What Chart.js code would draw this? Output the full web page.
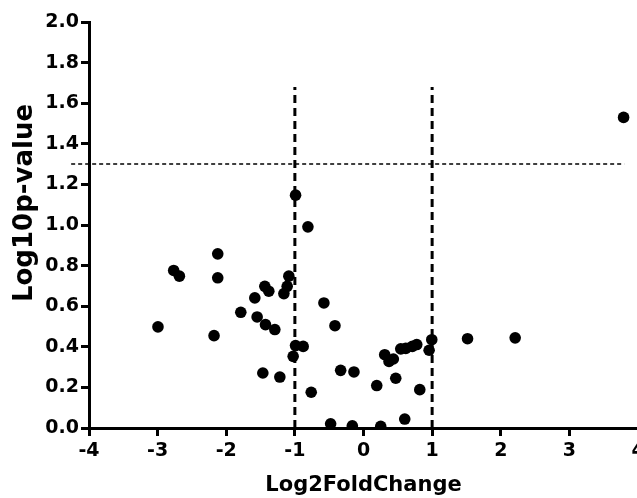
<!DOCTYPE html>
<html>
<head>
<meta charset="utf-8">
<script src="https://cdn.jsdelivr.net/npm/chart.js@4.4.1/dist/chart.umd.min.js"></script>
<style>
  html, body { margin: 0; padding: 0; background: #fff; overflow: hidden; }
  #wrap { width: 660px; height: 498px; position: relative; }
</style>
</head>
<body>
<div id="wrap"><canvas id="chart"></canvas></div>
<script>
// volcano plot values
const foldChange = [
  -2.995, -2.766, -2.683, -2.124, -2.124, -2.178, -1.788, -1.584, -1.550, -1.438,
  -1.380, -1.428, -1.292, -1.467, -1.219, -1.160, -1.112, -1.088, -0.990, -0.810,
  -0.990, -0.879, -1.025, -0.762, -0.577, -0.416, -0.333, -0.139, -0.479, -0.163,
  0.251, 0.601, 0.193, 0.470, 0.820, 0.309, 0.372, 0.435, 0.543, 0.616,
  0.712, 0.776, 0.995, 0.956, 1.516, 2.210, 3.790,
];
const log10p = [
  0.498, 0.776, 0.748, 0.858, 0.740, 0.455, 0.570, 0.641, 0.547, 0.698,
  0.674, 0.509, 0.485, 0.271, 0.251, 0.662, 0.698, 0.748, 1.147, 0.991,
  0.406, 0.402, 0.353, 0.176, 0.616, 0.504, 0.284, 0.276, 0.021, 0.011,
  0.008, 0.044, 0.209, 0.245, 0.189, 0.361, 0.328, 0.340, 0.390, 0.392,
  0.402, 0.411, 0.435, 0.383, 0.440, 0.444, 1.530,
];

// cut-off lines
const foldCutoffs = [-1, 1];
const foldLineTop = 1.68;
const pCutoff = 1.3;
const pLineFrom = -4.26;
const pLineTo = 3.8;

const yTitle = 'Log10p-value';
const tickFont = { family: 'DejaVu Sans', size: 19, weight: 'bold' };

const points = foldChange.map((x, i) => ({ x, y: log10p[i] }));

const cutoffSets = foldCutoffs.map((x) => ({
  data: [{ x, y: 0 }, { x, y: foldLineTop }],
  showLine: true,
  borderColor: '#000',
  borderWidth: 3,
  borderDash: [8, 5],
  pointRadius: 0,
  order: 2,
}));

// y title sits a bit above the middle of the axis in the original
const yTitlePlugin = {
  id: 'yTitle',
  afterDraw(chart) {
    const { ctx } = chart;
    ctx.save();
    ctx.translate(25, 203);
    ctx.rotate(-Math.PI / 2);
    ctx.font = 'bold 26px "DejaVu Sans"';
    ctx.fillStyle = '#000';
    ctx.textAlign = 'center';
    ctx.textBaseline = 'middle';
    ctx.fillText(yTitle, 0, 0);
    ctx.restore();
  },
};

new Chart(document.getElementById('chart'), {
  type: 'scatter',
  data: {
    datasets: [
      ...cutoffSets,
      {
        data: [{ x: pLineFrom, y: pCutoff }, { x: pLineTo, y: pCutoff }],
        showLine: true,
        borderColor: '#000',
        borderWidth: 1.5,
        borderDash: [4, 3],
        pointRadius: 0,
        clip: false,
        order: 2,
      },
      {
        data: points,
        backgroundColor: '#000',
        borderWidth: 0,
        pointRadius: 5.8,
        pointHoverRadius: 5.8,
        order: 1,
      },
    ],
  },
  options: {
    responsive: true,
    maintainAspectRatio: false,
    animation: false,
    layout: { padding: { top: 22, right: 22, bottom: 0, left: 0 } },
    plugins: { legend: { display: false }, tooltip: { enabled: false } },
    scales: {
      x: {
        type: 'linear',
        min: -4,
        max: 4,
        afterFit(scale) { scale.height = 70; },
        border: { display: true, color: '#000', width: 3 },
        grid: { drawOnChartArea: false, drawTicks: true, tickLength: 8, tickWidth: 3, tickColor: '#000' },
        ticks: {
          stepSize: 1,
          color: '#000',
          font: tickFont,
          padding: 4,
          callback: (v) => String(v),
        },
        title: {
          display: true,
          text: 'Log2FoldChange',
          color: '#000',
          font: { family: 'DejaVu Sans', size: 21, weight: 'bold' },
          padding: { top: 0, bottom: 0 },
        },
      },
      y: {
        min: 0,
        max: 2,
        afterFit(scale) { scale.width = 89; },
        border: { display: true, color: '#000', width: 3 },
        grid: { drawOnChartArea: false, drawTicks: true, tickLength: 8, tickWidth: 3, tickColor: '#000' },
        ticks: {
          stepSize: 0.2,
          color: '#000',
          font: tickFont,
          padding: 2,
          callback: (v) => Number(v).toFixed(1),
        },
        title: { display: false, text: yTitle },
      },
    },
  },
  plugins: [yTitlePlugin],
});
</script>
</body>
</html>
